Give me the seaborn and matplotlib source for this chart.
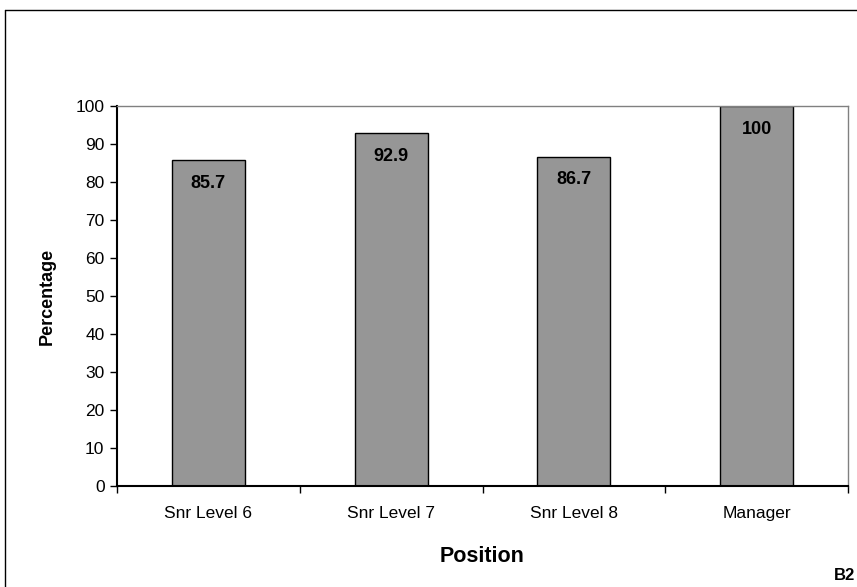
import seaborn as sns
import matplotlib.pyplot as plt
import pandas as pd
from matplotlib.lines import Line2D

positions = ["Snr Level 6", "Snr Level 7", "Snr Level 8", "Manager"]
percentages = [85.7, 92.9, 86.7, 100]
value_labels = ["85.7", "92.9", "86.7", "100"]

df = pd.DataFrame({"Position": positions, "Percentage": percentages})

sns.set_style("white")
plt.rcParams["font.family"] = ["Liberation Sans", "DejaVu Sans"]
plt.rcParams["text.color"] = "black"
plt.rcParams["axes.labelcolor"] = "black"
plt.rcParams["xtick.color"] = "black"
plt.rcParams["ytick.color"] = "black"

fig = plt.figure(figsize=(8.57, 5.87), dpi=100)
ax = fig.add_axes([117 / 857, 1 - 486 / 587, (848 - 117) / 857, (486 - 106) / 587])

sns.barplot(data=df, x="Position", y="Percentage", color="#969696",
            edgecolor="black", linewidth=1, width=0.4, saturation=1, ax=ax)

# labels inside the bar tops
ax.bar_label(ax.containers[0], labels=value_labels, padding=-23,
             fontsize=13, fontweight="bold")

ax.set_ylim(0, 100)
ax.set_xlim(-0.5, 3.5)
ax.set_yticks(range(0, 101, 10))
ax.tick_params(axis="y", left=True, length=5, width=1, labelsize=12.5, pad=4)
ax.tick_params(axis="x", which="major", bottom=False, labelsize=12.5, pad=11)
ax.set_xticks([-0.5, 0.5, 1.5, 2.5, 3.5], minor=True)
ax.tick_params(axis="x", which="minor", bottom=True, length=5, width=1)

for side in ["top", "right"]:
    ax.spines[side].set_color("#808080")
    ax.spines[side].set_linewidth(1)
for side in ["left", "bottom"]:
    ax.spines[side].set_color("black")
    ax.spines[side].set_linewidth(1.5)

ax.set_xlabel("Position", fontsize=15.5, fontweight="bold", labelpad=18)
ax.set_ylabel("Percentage", fontsize=13, fontweight="bold", labelpad=14)

# outer chart frame (cropped on the right and bottom)
fig.add_artist(Line2D([5 / 857, 1], [1 - 10 / 587] * 2, color="black", lw=1,
                      transform=fig.transFigure))
fig.add_artist(Line2D([5 / 857] * 2, [0, 1 - 10 / 587], color="black", lw=1,
                      transform=fig.transFigure))
fig.text(855 / 857, 1 - 575 / 587, "B2", fontsize=12, fontweight="bold",
         ha="right", va="center")

fig.savefig("out.png", dpi=100)
